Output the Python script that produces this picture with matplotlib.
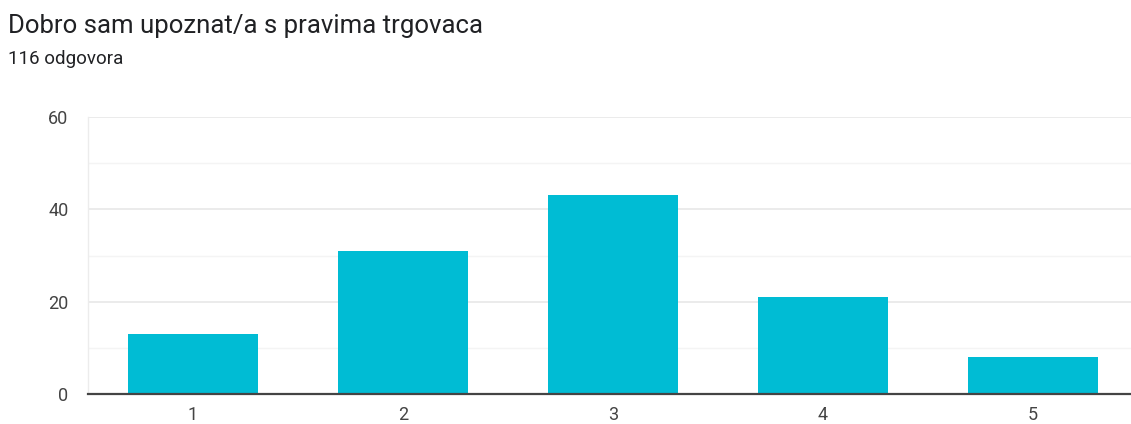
import matplotlib
matplotlib.use('Agg')
import matplotlib.pyplot as plt
from matplotlib.ticker import MultipleLocator

# podaci
categories = ['1', '2', '3', '4', '5']
counts = [13, 31, 43, 21, 8]
title = 'Dobro sam upoznat/a s pravima trgovaca'
subtitle = '116 odgovora'

plt.rcParams['font.family'] = ['Roboto', 'DejaVu Sans']

W, H = 1131, 424
fig = plt.figure(figsize=(W / 100, H / 100), dpi=100)

# područje grafa u pikselima
left, right, top, bottom = 88, 1131, 117, 394
ax = fig.add_axes([left / W, 1 - bottom / H, (right - left) / W, (bottom - top) / H])

x = list(range(len(categories)))
ax.bar(x, counts, width=0.62, color='#00BCD4', zorder=3)

ax.set_xlim(-0.5, 4 + (right - 1033) / 210)
ax.set_ylim(0, 60)
ax.yaxis.set_major_locator(MultipleLocator(20))
ax.yaxis.set_minor_locator(MultipleLocator(10))
ax.set_xticks(x)
ax.set_xticklabels(categories)

ax.grid(True, which='major', axis='y', color='#e8e8e8', linewidth=1.2, zorder=0)
ax.grid(True, which='minor', axis='y', color='#f4f4f4', linewidth=1.0, zorder=0)

for s in ['top', 'right']:
    ax.spines[s].set_visible(False)
ax.spines['left'].set_color('#ececec')
ax.spines['left'].set_linewidth(1.0)
ax.spines['bottom'].set_color('#444444')
ax.spines['bottom'].set_linewidth(1.6)
ax.spines['bottom'].set_zorder(4)

ax.tick_params(axis='both', which='both', length=0, labelsize=13, colors='#444444')
ax.tick_params(axis='x', pad=9)
ax.tick_params(axis='y', pad=14)

fig.text(8 / W, 1 - 33 / H, title, fontsize=18.5, color='#202124', ha='left', va='baseline')
fig.text(8 / W, 1 - 64 / H, subtitle, fontsize=13.5, color='#202124', ha='left', va='baseline')

fig.savefig('out.png', dpi=100)
